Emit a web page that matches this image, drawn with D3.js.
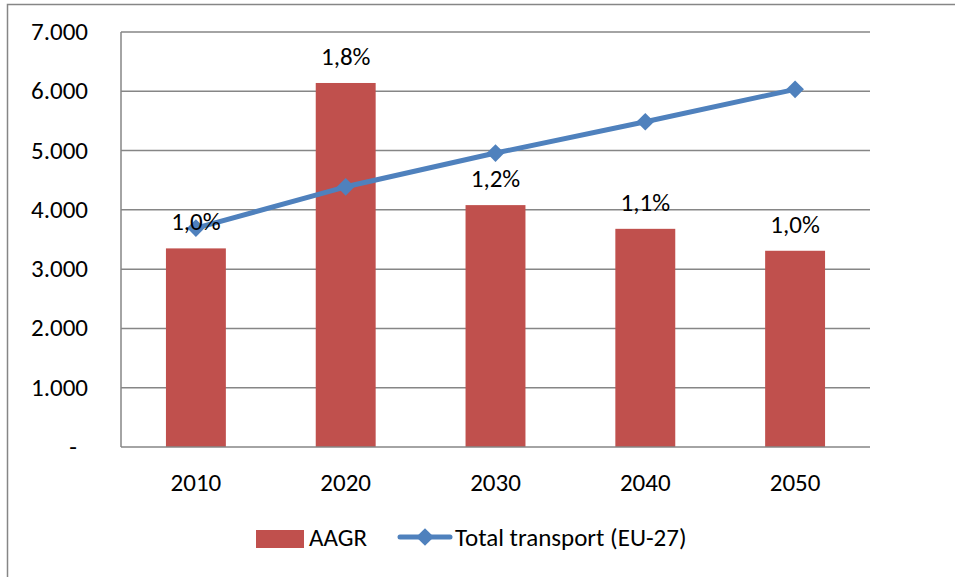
<!DOCTYPE html>
<html lang="en">
<head>
    <meta charset="UTF-8">
    <title>AAGR and total transport (EU-27)</title>
    <style>
        body {
            margin: 0;
            background: #ffffff;
        }
        svg text {
            font-family: Calibri, Carlito, 'Liberation Sans', sans-serif;
            fill: #000;
        }
    </style>
</head>
<body>
    <div id="chart"></div>

    <script src="https://d3js.org/d3.v7.min.js"></script>
    <script>
        // Chart data
        const years = ['2010', '2020', '2030', '2040', '2050'];
        const aagr = [1.005, 1.842, 1.224, 1.104, 0.993];      // % (bars, hidden secondary axis)
        const totalTransport = [3692, 4389, 4958, 5486, 6033];  // line, left axis
        const yTicks = [0, 1000, 2000, 3000, 4000, 5000, 6000, 7000];

        const width = 955, height = 577;
        const plot = { left: 121, right: 870, top: 32, bottom: 447 };
        const fontSize = '25px';

        const svg = d3.select('#chart')
            .append('svg')
            .attr('width', width)
            .attr('height', height);

        // outer chart frame
        svg.append('rect')
            .attr('x', 7.5)
            .attr('y', 4.5)
            .attr('width', 960)
            .attr('height', 600)
            .attr('fill', '#fff')
            .attr('stroke', '#868686')
            .attr('stroke-width', 1.5);

        const x = d3.scaleBand()
            .domain(years)
            .range([plot.left, plot.right])
            .paddingInner(0.6)
            .paddingOuter(0.3);

        const y = d3.scaleLinear()
            .domain([0, 7000])
            .range([plot.bottom, plot.top]);

        const y2 = d3.scaleLinear()
            .domain([0, 2.1])
            .range([plot.bottom, plot.top]);

        const fmtTick = d => d === 0 ? '-' : d3.format(',')(d).replace(/,/g, '.');

        // gridlines
        svg.append('g')
            .selectAll('line')
            .data(yTicks.filter(d => d > 0))
            .enter()
            .append('line')
            .attr('x1', plot.left)
            .attr('x2', plot.right)
            .attr('y1', d => y(d))
            .attr('y2', d => y(d))
            .attr('stroke', '#868686')
            .attr('stroke-width', 1.5);

        // y axis labels
        svg.append('g')
            .selectAll('text')
            .data(yTicks)
            .enter()
            .append('text')
            .attr('x', d => d === 0 ? 77 : 88)
            .attr('y', d => y(d) + 2)
            .attr('text-anchor', 'end')
            .attr('dominant-baseline', 'middle')
            .attr('font-size', fontSize)
            .text(fmtTick);

        // bars
        svg.append('g')
            .selectAll('rect')
            .data(years)
            .enter()
            .append('rect')
            .attr('x', d => x(d))
            .attr('y', (d, i) => y2(aagr[i]))
            .attr('width', x.bandwidth())
            .attr('height', (d, i) => plot.bottom - y2(aagr[i]))
            .attr('fill', '#C0504D');

        // axes lines
        svg.append('line')
            .attr('x1', plot.left).attr('x2', plot.left)
            .attr('y1', plot.top).attr('y2', plot.bottom)
            .attr('stroke', '#868686').attr('stroke-width', 1.5);
        svg.append('line')
            .attr('x1', plot.left).attr('x2', plot.right)
            .attr('y1', plot.bottom).attr('y2', plot.bottom)
            .attr('stroke', '#868686').attr('stroke-width', 1.5);

        // x labels
        svg.append('g')
            .selectAll('text')
            .data(years)
            .enter()
            .append('text')
            .attr('x', d => x(d) + x.bandwidth() / 2)
            .attr('y', 485)
            .attr('text-anchor', 'middle')
            .attr('dominant-baseline', 'middle')
            .attr('font-size', fontSize)
            .text(d => d);

        // line series
        const cx = d => x(d) + x.bandwidth() / 2;
        const line = d3.line()
            .x((d, i) => cx(years[i]))
            .y(d => y(d));

        svg.append('path')
            .datum(totalTransport)
            .attr('d', line)
            .attr('fill', 'none')
            .attr('stroke', '#4F81BD')
            .attr('stroke-width', 5)
            .attr('stroke-linejoin', 'round');

        const diamond = d3.symbol().type(d3.symbolDiamond2).size(200);
        svg.append('g')
            .selectAll('path')
            .data(totalTransport)
            .enter()
            .append('path')
            .attr('d', diamond)
            .attr('transform', (d, i) => `translate(${cx(years[i])},${y(d)})`)
            .attr('fill', '#4F81BD');

        // bar data labels
        svg.append('g')
            .selectAll('text')
            .data(aagr)
            .enter()
            .append('text')
            .attr('x', (d, i) => cx(years[i]))
            .attr('y', d => y2(d) - 24)
            .attr('text-anchor', 'middle')
            .attr('dominant-baseline', 'middle')
            .attr('font-size', fontSize)
            .text(d => d3.format('.1f')(d).replace('.', ',') + '%');

        // legend
        const legend = svg.append('g');
        legend.append('rect')
            .attr('x', 256).attr('y', 530)
            .attr('width', 48).attr('height', 18)
            .attr('fill', '#C0504D');
        legend.append('text')
            .attr('x', 309).attr('y', 540)
            .attr('dominant-baseline', 'middle')
            .attr('font-size', fontSize)
            .text('AAGR');
        legend.append('line')
            .attr('x1', 400).attr('x2', 450)
            .attr('y1', 537).attr('y2', 537)
            .attr('stroke', '#4F81BD')
            .attr('stroke-width', 5)
            .attr('stroke-linecap', 'round');
        legend.append('path')
            .attr('d', diamond)
            .attr('transform', 'translate(425,537)')
            .attr('fill', '#4F81BD');
        legend.append('text')
            .attr('x', 455).attr('y', 540)
            .attr('dominant-baseline', 'middle')
            .attr('font-size', fontSize)
            .text('Total transport (EU-27)');
    </script>
</body>
</html>
